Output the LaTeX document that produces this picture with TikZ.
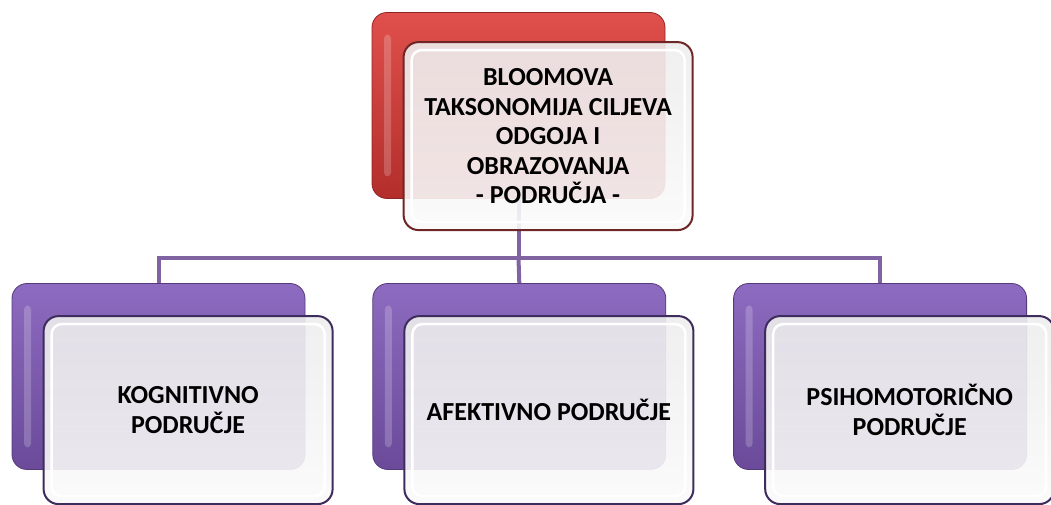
\documentclass[tikz,border=0pt]{standalone}
\usepackage{fontspec}
\setmainfont{Carlito}[BoldFont={Carlito Bold}]
\usetikzlibrary{positioning}
\definecolor{redtop}{HTML}{E0504C}
\definecolor{redbot}{HTML}{B32E2B}
\definecolor{redline}{HTML}{6E2626}
\definecolor{purpletop}{HTML}{8D6BC0}
\definecolor{purplebot}{HTML}{6A4A99}
\definecolor{purpleline}{HTML}{3E2C5C}
\definecolor{linkpurple}{HTML}{8064A2}

\begin{document}
\begin{tikzpicture}[x=1pt, y=1pt,
  backbox/.style={rounded corners=15pt, minimum width=293pt, minimum height=186pt, inner sep=0pt, line width=0.8pt,
    path picture={\fill[white, opacity=0.2, rounded corners=4pt] ([shift={(12,-22)}]path picture bounding box.north west) rectangle ([shift={(19,22)}]path picture bounding box.south west);}},
  redback/.style={backbox, draw=redbot!80!black, top color=redtop, bottom color=redbot},
  purpleback/.style={backbox, draw=purplebot!80!black, top color=purpletop, bottom color=purplebot},
  frontbox/.style={rounded corners=15pt, minimum width=289pt, minimum height=188pt, inner sep=0pt, line width=2pt, draw=#1,
    top color=black!7, bottom color=black!2, fill opacity=0.9, text opacity=1, align=center,
    font=\fontsize{26}{29.5}\selectfont\bfseries,
    path picture={\draw[white, line width=2.5pt, rounded corners=10pt] ([shift={(8,-8)}]path picture bounding box.north west) rectangle ([shift={(-8,8)}]path picture bounding box.south east);}},
  connector/.style={draw=linkpurple, line width=4pt}]
\useasboundingbox (0,0) rectangle (1051,505);
\node[redback] (bloomb) at (518.5,399.5) {};
\node[purpleback] (kogb) at (158.5,128.5) {};
\node[purpleback, right=67pt of kogb] (afeb) {};
\node[purpleback, right=67pt of afeb] (psib) {};
\coordinate (split) at (518.5,247);
\draw[connector] (bloomb.south) -- (split) -| (kogb.north);
\draw[connector] (split) -| (psib.north);
\draw[connector] (split) -- (afeb.north);
\node[frontbox=redline, anchor=north west] (bloom) at ([shift={(31,-29)}]bloomb.north west) {BLOOMOVA\\TAKSONOMIJA CILJEVA\\ODGOJA I\\OBRAZOVANJA\\- PODRUČJA -};
\node[frontbox=purpleline, anchor=north west] (kog) at ([shift={(31,-32)}]kogb.north west) {KOGNITIVNO\\PODRUČJE};
\node[frontbox=purpleline, anchor=north west] (afe) at ([shift={(31,-32)}]afeb.north west) {AFEKTIVNO PODRUČJE};
\node[frontbox=purpleline, anchor=north west] (psi) at ([shift={(31,-32)}]psib.north west) {PSIHOMOTORIČNO\\PODRUČJE};
\end{tikzpicture}
\end{document}
